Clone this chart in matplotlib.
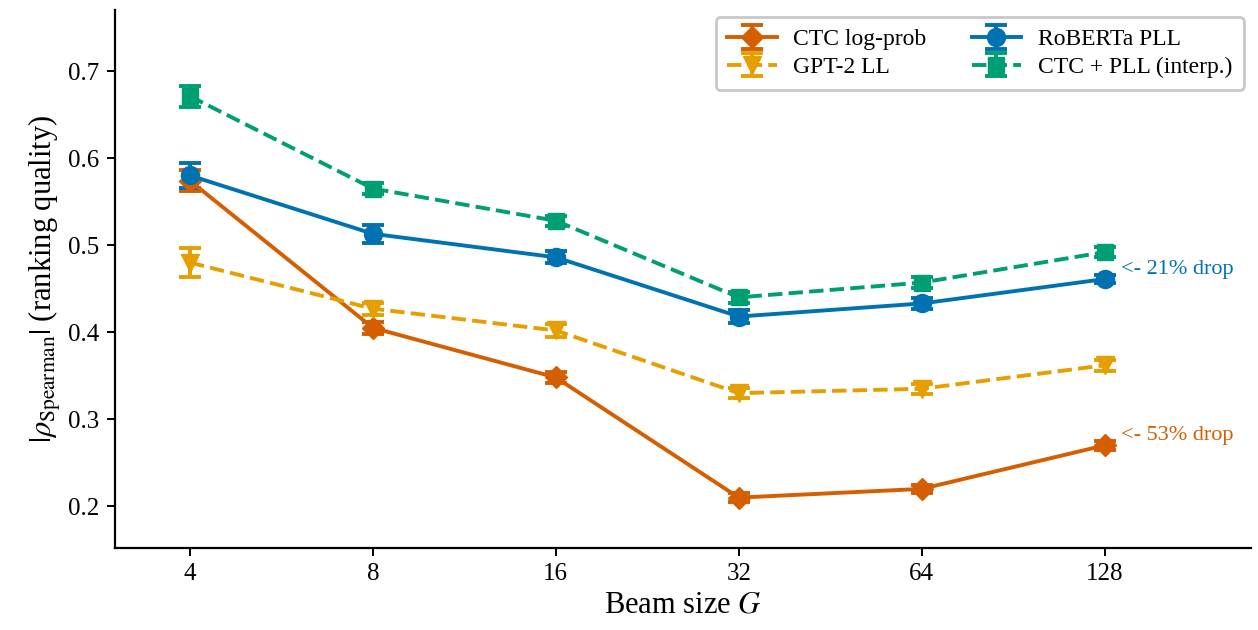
import matplotlib
matplotlib.use("Agg")
import matplotlib.pyplot as plt
import numpy as np

plt.rcParams["font.family"] = "serif"
plt.rcParams["font.serif"] = ["Liberation Serif", "DejaVu Serif"]
plt.rcParams["mathtext.fontset"] = "stix"

# beam sizes
beams = ["4", "8", "16", "32", "64", "128"]

ctc = [0.574, 0.405, 0.348, 0.210, 0.220, 0.270]
ctc_err = [0.012, 0.007, 0.006, 0.005, 0.005, 0.005]

gpt2 = [0.480, 0.427, 0.402, 0.330, 0.335, 0.362]
gpt2_err = [0.017, 0.007, 0.007, 0.006, 0.006, 0.006]

roberta = [0.580, 0.513, 0.486, 0.418, 0.433, 0.461]
roberta_err = [0.014, 0.010, 0.007, 0.007, 0.006, 0.005]

interp = [0.671, 0.565, 0.528, 0.440, 0.457, 0.492]
interp_err = [0.012, 0.006, 0.006, 0.006, 0.006, 0.006]

c_ctc = "#D55E00"
c_gpt = "#E69F00"
c_rob = "#0072B2"
c_int = "#009E73"

x = np.arange(len(beams))

fig = plt.figure(figsize=(12.58, 6.3), dpi=100)
ax = fig.add_axes([0.0914, 0.130, 0.903, 0.854])

kw = dict(linewidth=2.8, capsize=8, capthick=2.8, elinewidth=2.8)
ax.errorbar(x, ctc, yerr=ctc_err, color=c_ctc, marker="D", markersize=11, linestyle="-",
            label="CTC log-prob", **kw)
ax.errorbar(x, gpt2, yerr=gpt2_err, color=c_gpt, marker="v", markersize=13, linestyle="--",
            label="GPT-2 LL", **kw)
ax.errorbar(x, roberta, yerr=roberta_err, color=c_rob, marker="o", markersize=13, linestyle="-",
            label="RoBERTa PLL", **kw)
ax.errorbar(x, interp, yerr=interp_err, color=c_int, marker="s", markersize=12, linestyle="--",
            label="CTC + PLL (interp.)", **kw)

# drop annotations
ax.annotate("<- 21% drop", (x[-1], roberta[-1]), xytext=(12, 7), textcoords="offset points",
            color=c_rob, fontsize=16, va="center")
ax.annotate("<- 53% drop", (x[-1], ctc[-1]), xytext=(12, 7), textcoords="offset points",
            color=c_ctc, fontsize=16, va="center")

ax.set_xticks(x)
ax.set_xticklabels(beams)
ax.set_xlim(-0.41, 5.8)
ax.set_ylim(0.152, 0.77)
ax.set_yticks([0.2, 0.3, 0.4, 0.5, 0.6, 0.7])
ax.tick_params(labelsize=18, width=1.4, length=6, pad=5)

ax.set_xlabel(r"Beam size $G$", fontsize=22)
ax.set_ylabel(r"$|\rho_{\mathrm{Spearman}}|$ (ranking quality)", fontsize=22)

ax.spines["top"].set_visible(False)
ax.spines["right"].set_visible(False)
ax.spines["left"].set_linewidth(1.6)
ax.spines["bottom"].set_linewidth(1.6)

leg = ax.legend(ncol=2, loc="upper right", fontsize=17, frameon=True, edgecolor="#bbbbbb",
                fancybox=True, columnspacing=1.9, handlelength=2.1, handletextpad=0.7,
                borderaxespad=0.3, borderpad=0.5, labelspacing=0.25)
leg.get_frame().set_linewidth(2)

plt.savefig("out.png", dpi=100)
